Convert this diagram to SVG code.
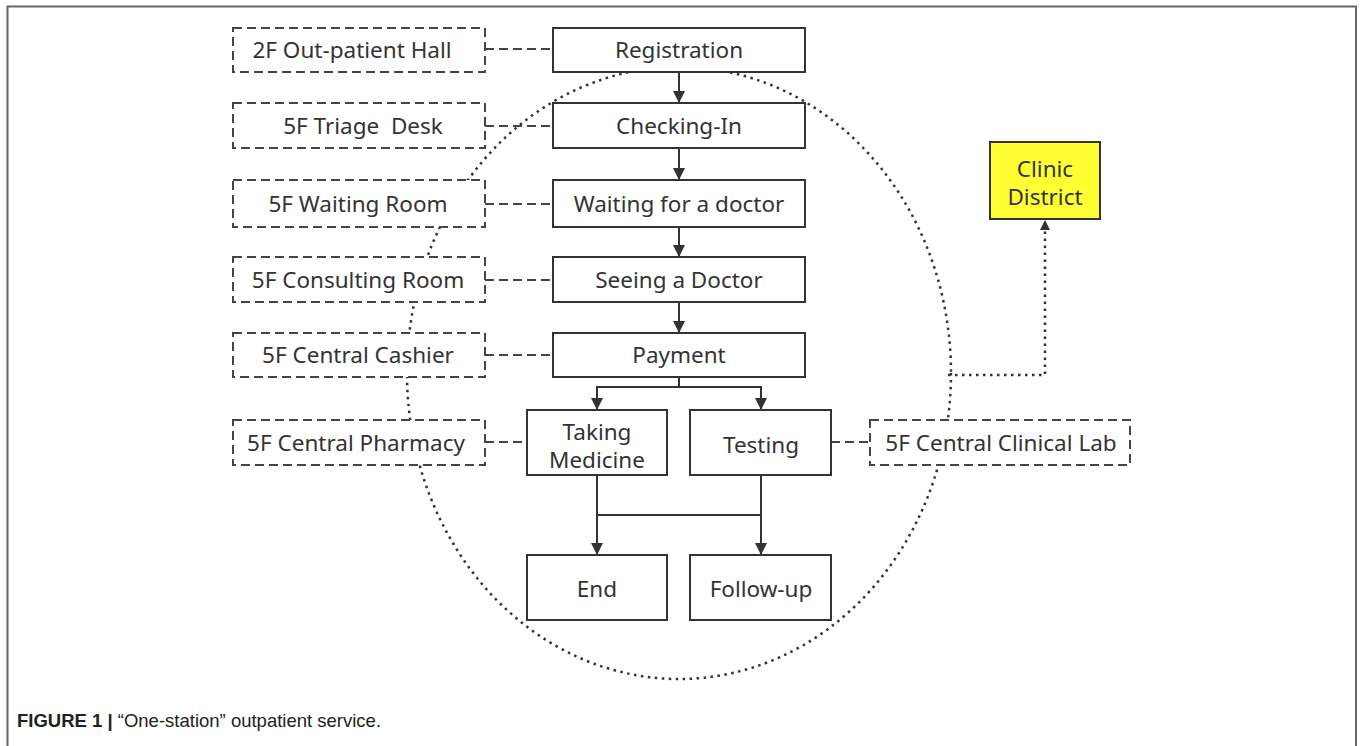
<svg xmlns="http://www.w3.org/2000/svg" width="1360" height="746" viewBox="0 0 1360 746">
<style>
.box{fill:#fff;stroke:#333;stroke-width:2}
.dbox{fill:#fff;stroke:#444;stroke-width:2;stroke-dasharray:9 5}
.yb{fill:#ffff33;stroke:#333;stroke-width:2}
.t{font-family:"Noto Sans","Open Sans","DejaVu Sans",sans-serif;font-size:22.5px;fill:#333;text-anchor:middle}
.ln{fill:none;stroke:#333;stroke-width:2}
.dl{fill:none;stroke:#444;stroke-width:2;stroke-dasharray:9 5}
.dot{fill:none;stroke:#333;stroke-width:2.5;stroke-dasharray:2.5 4.5}
.cap{font-family:"Liberation Sans Narrow","Liberation Sans",Arial,sans-serif;font-size:18.5px;fill:#222}
</style>
<defs>
<marker id="ah" viewBox="0 0 10 10" refX="10" refY="5" markerWidth="12" markerHeight="16" markerUnits="userSpaceOnUse" orient="auto">
<path d="M0,0 L10,5 L0,10 z" fill="#333"/>
</marker>
<marker id="ahs" viewBox="0 0 10 10" refX="10" refY="5" markerWidth="12" markerHeight="10" markerUnits="userSpaceOnUse" orient="auto">
<path d="M0,0 L10,5 L0,10 z" fill="#333"/>
</marker>
</defs>
<rect width="1360" height="746" fill="#fff"/>
<g id="frame">
<path d="M7.5,746 V6.5 H1356 V746" fill="none" stroke="#666" stroke-width="2"/>
</g>
<g id="district-ellipse">
<ellipse cx="679" cy="373" rx="272" ry="306" class="dot"/>
</g>
<g id="connectors">
<line x1="679" y1="72" x2="679" y2="103" class="ln" marker-end="url(#ah)"/>
<line x1="679" y1="148" x2="679" y2="180" class="ln" marker-end="url(#ah)"/>
<line x1="679" y1="227" x2="679" y2="257" class="ln" marker-end="url(#ah)"/>
<line x1="679" y1="302" x2="679" y2="333" class="ln" marker-end="url(#ah)"/>
<path d="M679,377 V387 H597 V410" class="ln" marker-end="url(#ah)"/>
<path d="M679,387 H761 V410" class="ln" marker-end="url(#ah)"/>
<line x1="597" y1="475" x2="597" y2="555" class="ln" marker-end="url(#ah)"/>
<line x1="761" y1="475" x2="761" y2="555" class="ln" marker-end="url(#ah)"/>
<line x1="597" y1="515" x2="761" y2="515" class="ln"/>
<line x1="485" y1="49" x2="553" y2="49" class="dl"/>
<line x1="485" y1="126" x2="553" y2="126" class="dl"/>
<line x1="485" y1="204" x2="553" y2="204" class="dl"/>
<line x1="485" y1="280" x2="553" y2="280" class="dl"/>
<line x1="485" y1="355" x2="553" y2="355" class="dl"/>
<line x1="485" y1="442" x2="527" y2="442" class="dl"/>
<line x1="831" y1="442" x2="870" y2="442" class="dl"/>
<path d="M948,375 H1045 V220" class="dot" marker-end="url(#ahs)"/>
</g>
<g id="registration"><rect x="553" y="28" width="252" height="44" class="box"/><text x="679" y="58" class="t">Registration</text></g>
<g id="checking-in"><rect x="553" y="103" width="252" height="45" class="box"/><text x="679" y="134" class="t">Checking-In</text></g>
<g id="waiting"><rect x="553" y="180" width="252" height="47" class="box"/><text x="679" y="212" class="t">Waiting for a doctor</text></g>
<g id="seeing"><rect x="553" y="257" width="252" height="45" class="box"/><text x="679" y="288" class="t">Seeing a Doctor</text></g>
<g id="payment"><rect x="553" y="333" width="252" height="44" class="box"/><text x="679" y="363" class="t">Payment</text></g>
<g id="taking"><rect x="527" y="410" width="140" height="65" class="box"/><text x="597" y="440" class="t">Taking</text><text x="597" y="468" class="t">Medicine</text></g>
<g id="testing"><rect x="690" y="410" width="141" height="65" class="box"/><text x="761" y="453" class="t">Testing</text></g>
<g id="end"><rect x="527" y="555" width="140" height="65" class="box"/><text x="597" y="597" class="t">End</text></g>
<g id="follow-up"><rect x="690" y="555" width="141" height="65" class="box"/><text x="761" y="597" class="t">Follow-up</text></g>
<g id="hall"><rect x="233" y="28" width="252" height="44" class="dbox"/><text x="352" y="58" class="t">2F Out-patient Hall</text></g>
<g id="triage"><rect x="233" y="103" width="252" height="45" class="dbox"/><text x="363" y="134" class="t" style="white-space:pre">5F Triage  Desk</text></g>
<g id="waiting-room"><rect x="233" y="180" width="252" height="47" class="dbox"/><text x="358" y="212" class="t">5F Waiting Room</text></g>
<g id="consulting"><rect x="233" y="257" width="252" height="45" class="dbox"/><text x="358" y="288" class="t">5F Consulting Room</text></g>
<g id="cashier"><rect x="233" y="333" width="252" height="44" class="dbox"/><text x="358" y="363" class="t">5F Central Cashier</text></g>
<g id="pharmacy"><rect x="233" y="420" width="252" height="45" class="dbox"/><text x="356" y="451" class="t">5F Central Pharmacy</text></g>
<g id="clinical-lab"><rect x="870" y="420" width="260" height="45" class="dbox"/><text x="1001" y="451" class="t">5F Central Clinical Lab</text></g>
<g id="clinic-district"><rect x="990" y="142" width="110" height="77" class="yb"/><text x="1045" y="177" class="t">Clinic</text><text x="1045" y="205" class="t">District</text></g>
<g id="caption"><text x="17" y="727" class="cap"><tspan font-weight="bold">FIGURE 1 |</tspan> “One-station” outpatient service.</text></g>
</svg>
